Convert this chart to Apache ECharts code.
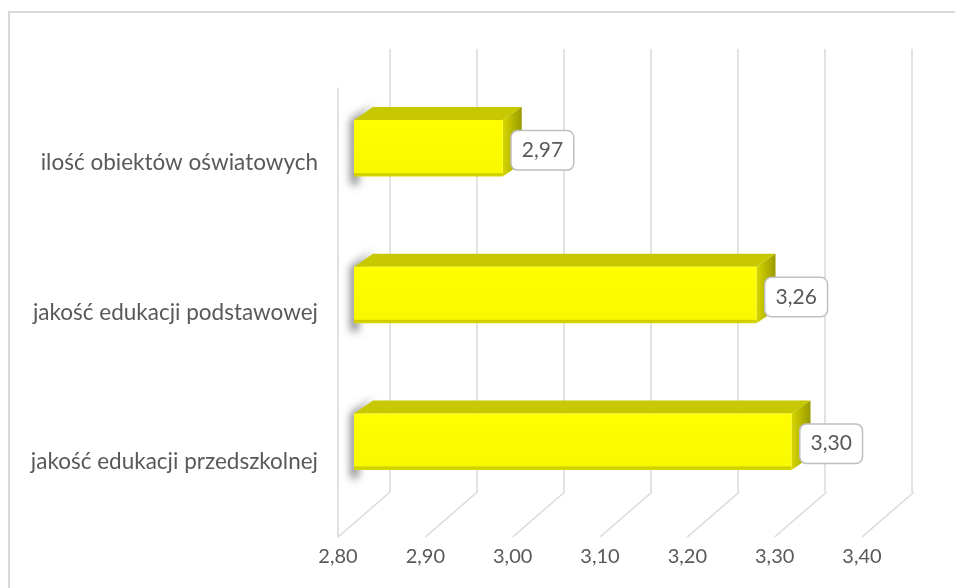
<!DOCTYPE html>
<html>
<head>
<meta charset="utf-8">
<script src="https://cdn.jsdelivr.net/npm/echarts@6/dist/echarts.min.js"></script>
<style>
  html, body { margin: 0; padding: 0; background: #fff; }
  #main { width: 955px; height: 588px; }
</style>
</head>
<body>
<div id="main"></div>
<script>
// dane (od dołu do góry, jak w Excelu)
const categories = ['jakość edukacji przedszkolnej', 'jakość edukacji podstawowej', 'ilość obiektów oświatowych'];
const values = [3.30, 3.26, 2.97];
const ticks = [2.80, 2.90, 3.00, 3.10, 3.20, 3.30, 3.40];

const axisMin = 2.8, axisMax = 3.4, step = 0.1;
const gridColor = '#d9d9d9';
const textColor = '#595959';
const font = 'Lato, "Open Sans", sans-serif';
const fmt = v => v.toFixed(2).replace('.', ',');

// przesunięcie głębi (perspektywa 3D)
const depthX = 52, depthY = -45;
const barDX = 19, barDY = -13;
// cień rysowany poza ekranem, widoczny tylko rozmyty
const SH = 3000;

const myChart = echarts.init(document.getElementById('main'));

myChart.setOption({
  animation: false,
  backgroundColor: '#fff',
  graphic: [{
    type: 'rect',
    shape: {x: 9, y: 12, width: 1000, height: 1000},
    style: {fill: 'none', stroke: '#d9d9d9', lineWidth: 2},
    silent: true
  }],
  grid: [
    // tylna ściana
    {left: 390, right: 43, top: 49, bottom: 96},
    // przednia płaszczyzna (osie)
    {left: 338, right: 93, top: 88, bottom: 51},
    // słupki
    {left: 354, right: 76, top: 75, bottom: 73}
  ],
  xAxis: [
    {
      gridIndex: 0, type: 'value', min: axisMin, max: axisMax, interval: step,
      axisLine: {show: false}, axisTick: {show: false}, axisLabel: {show: false},
      splitLine: {show: true, lineStyle: {color: gridColor, width: 1.5}}
    },
    {
      gridIndex: 1, type: 'value', min: axisMin, max: axisMax, interval: step,
      axisLine: {show: false}, axisTick: {show: false}, splitLine: {show: false},
      axisLabel: {
        formatter: v => fmt(v), color: textColor, fontSize: 20, fontFamily: font, margin: 10
      }
    },
    {
      gridIndex: 2, type: 'value', min: axisMin, max: axisMax, show: false
    }
  ],
  yAxis: [
    {gridIndex: 0, type: 'value', show: false},
    {
      gridIndex: 1, type: 'category', data: categories,
      axisLine: {show: true, lineStyle: {color: gridColor, width: 1.5}},
      axisTick: {show: false},
      axisLabel: {color: textColor, fontSize: 22.5, fontFamily: font, margin: 20}
    },
    {gridIndex: 2, type: 'category', data: categories, show: false}
  ],
  series: [
    {
      // ukośne linie podłogi
      type: 'custom',
      xAxisIndex: 1, yAxisIndex: 1,
      data: ticks.map(t => [t, 0]),
      silent: true,
      renderItem(params, api) {
        const p = api.coord([api.value(0), 0]);
        const bottom = params.coordSys.y + params.coordSys.height;
        return {
          type: 'line',
          shape: {x1: p[0], y1: bottom, x2: p[0] + depthX, y2: bottom + depthY},
          style: {stroke: gridColor, lineWidth: 1.5}
        };
      }
    },
    {
      type: 'custom',
      xAxisIndex: 2, yAxisIndex: 2,
      data: values.map((v, i) => [v, i]),
      renderItem(params, api) {
        const v = api.value(0);
        const start = api.coord([axisMin, api.value(1)]);
        const end = api.coord([v, api.value(1)]);
        const h = api.size([0, 1])[1] * 0.385;
        const x0 = start[0], x1 = end[0], yc = end[1];
        const yt = yc - h / 2, yb = yc + h / 2;
        const sx = x0 - SH;
        return {
          type: 'group',
          children: [
            {
              // miękki cień po lewej stronie
              type: 'polygon',
              shape: {points: [
                [sx + barDX, yt + barDY - 2], [sx - 3, yt],
                [sx - 3, yb + 8], [sx + 4, yb + 8], [sx + 4, yt + 3]
              ]},
              style: {
                fill: '#000', shadowBlur: 9, shadowColor: 'rgba(0,0,0,0.55)',
                shadowOffsetX: SH, shadowOffsetY: 0
              }
            },
            {
              type: 'polygon',
              shape: {points: [[x0, yt], [x0 + barDX, yt + barDY], [x1 + barDX, yt + barDY], [x1, yt]]},
              style: {fill: '#c8c800'}
            },
            {
              type: 'polygon',
              shape: {points: [[x1, yt], [x1 + barDX, yt + barDY], [x1 + barDX, yb + barDY], [x1, yb]]},
              style: {
                fill: new echarts.graphic.LinearGradient(0, 0, 1, 0, [
                  {offset: 0, color: '#d6d600'},
                  {offset: 1, color: '#9a9a00'}
                ])
              }
            },
            {
              type: 'rect',
              shape: {x: x0, y: yt, width: x1 - x0, height: h},
              style: {
                fill: new echarts.graphic.LinearGradient(0, 0, 0, 1, [
                  {offset: 0, color: '#ffff00'},
                  {offset: 0.93, color: '#f8f800'},
                  {offset: 0.95, color: '#cccc00'},
                  {offset: 1, color: '#d8d800'}
                ])
              }
            },
            {
              type: 'text',
              x: x1 + 9, y: yc + 2,
              style: {
                text: fmt(v), fill: textColor, fontSize: 21, fontFamily: font,
                align: 'left', verticalAlign: 'middle',
                backgroundColor: '#fff', borderColor: '#bfbfbf', borderWidth: 1.5,
                borderRadius: 6, padding: [9, 10, 8, 10]
              }
            }
          ]
        };
      }
    }
  ]
});
</script>
</body>
</html>
